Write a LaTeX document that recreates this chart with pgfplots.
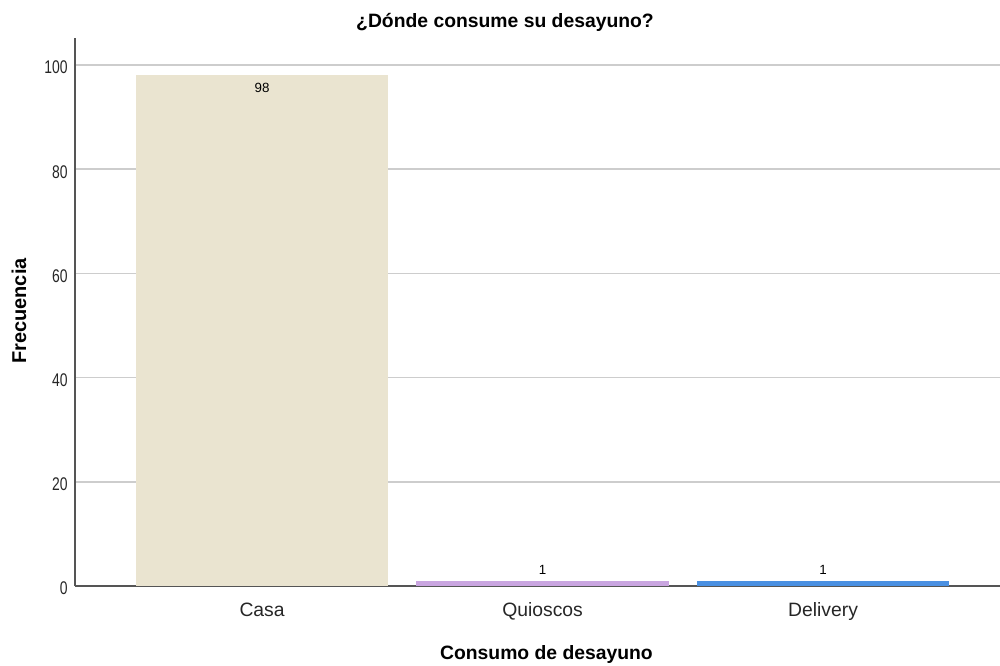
\documentclass[border=0pt]{standalone}
\usepackage{fontspec}
\setmainfont{Liberation Sans}
\usepackage{pgfplots}
\pgfplotsset{compat=1.18}

\definecolor{casa}{RGB}{234,228,208}
\definecolor{quiosco}{RGB}{201,165,224}
\definecolor{delivery}{RGB}{74,144,226}
\definecolor{gridgray}{RGB}{205,205,205}
\definecolor{axisgray}{RGB}{85,85,85}

\begin{document}
\begin{tikzpicture}
\useasboundingbox (-56.25pt,-59.25pt) rectangle (693.75pt,439.5pt);
\begin{axis}[
  at={(0pt,0pt)}, anchor=south west,
  scale only axis, width=693.75pt, height=411pt,
  xmin=-0.667, xmax=2.631, ymin=0, ymax=105.18,
  ybar, bar width=0.9,
  axis x line=bottom, axis y line=left,
  axis line style={-, draw=axisgray, line width=1pt},
  xtick={0,1,2}, xticklabels={Casa,Quioscos,Delivery},
  ytick={0,20,...,100},
  major tick length=0pt,
  ymajorgrids, grid style={gridgray, line width=1.1pt},
  xticklabel style={font=\fontsize{14.5}{16}\selectfont, text=black!85, anchor=base, inner sep=0pt, yshift=-22.5pt},
  yticklabel={\scalebox{0.95}[1.25]{\pgfmathprintnumber{\tick}}},
  yticklabel style={font=\fontsize{11}{13}\selectfont, text=black!85, anchor=east, inner sep=0pt, xshift=-5.25pt, yshift=-2pt},
  /pgf/number format/assume math mode=true,
  nodes near coords={\scalebox{0.95}[1.25]{\pgfmathprintnumber{\pgfplotspointmeta}}},
  nodes near coords style={font=\fontsize{10}{12}\selectfont, text=black, inner sep=0pt},
]
\addplot[fill=casa, draw=none, bar shift=0pt, nodes near coords,
  nodes near coords style={anchor=north, yshift=-6pt}] coordinates {(0,98)};
\addplot[fill=quiosco, draw=none, bar shift=0pt, nodes near coords,
  nodes near coords style={anchor=south, yshift=4.5pt}] coordinates {(1,1)};
\addplot[fill=delivery, draw=none, bar shift=0pt, nodes near coords,
  nodes near coords style={anchor=south, yshift=4.5pt}] coordinates {(2,1)};
\end{axis}
\node[anchor=base, font=\bfseries\fontsize{14.5}{16}\selectfont] at (322.5pt,418.5pt) {¿Dónde consume su desayuno?};
\node[anchor=base, font=\bfseries\fontsize{14.5}{16}\selectfont] at (353.6pt,-54.75pt) {Consumo de desayuno};
\node[rotate=90, font=\bfseries\fontsize{15}{17}\selectfont] at (-42pt,206.25pt) {Frecuencia};
\end{tikzpicture}
\end{document}
